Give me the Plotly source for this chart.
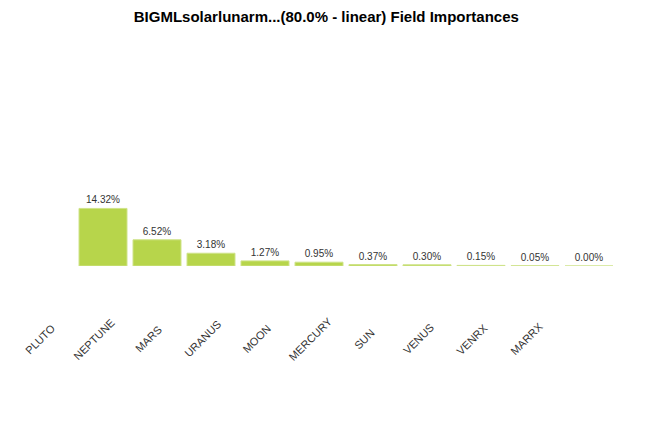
import plotly.graph_objects as go

fields = ["PLUTO", "NEPTUNE", "MARS", "URANUS", "MOON", "MERCURY", "SUN", "VENUS", "VENRX", "MARRX"]
importances = [14.32, 6.52, 3.18, 1.27, 0.95, 0.37, 0.30, 0.15, 0.05, 0.00]
title_text = "BIGMLsolarlunarm...(80.0% - linear) Field Importances"

FONT = "Liberation Sans, Arial, sans-serif"
BAR_COLOR = "#b7d54b"
LABEL_SHIFT = -1.157  # labels in the original sit about one slot left of their bars

idx = list(range(len(fields)))

fig = go.Figure()
fig.add_trace(go.Bar(
    x=idx,
    y=importances,
    marker=dict(color=BAR_COLOR, line=dict(color="#cfe38a", width=1)),
    text=[f"{v:.2f}%" for v in importances],
    textposition="outside",
    textfont=dict(family=FONT, size=10, color="#333333"),
    constraintext="none",
    cliponaxis=False,
    hoverinfo="skip",
))

annotations = []
for i, name in zip(idx, fields):
    annotations.append(dict(
        x=i + LABEL_SHIFT, y=-0.311, xref="x", yref="paper",
        text=name, showarrow=False, textangle=-45,
        xanchor="center", yanchor="middle",
        font=dict(family=FONT, size=11, color="#333333"),
    ))

fig.update_layout(
    width=651, height=422,
    margin=dict(l=14, r=43, t=22, b=164),
    paper_bgcolor="white", plot_bgcolor="white",
    bargap=0.111,
    showlegend=False,
    title=dict(
        text=f"<b>{title_text}</b>",
        x=0.489, xanchor="center",
        y=1 - 9 / 422, yanchor="middle", yref="container",
        font=dict(family=FONT, size=15, color="#000000"),
    ),
    xaxis=dict(range=[-1.5, 9.5], showticklabels=False, showgrid=False,
               zeroline=False, showline=False, ticks=""),
    yaxis=dict(range=[0, 236 / 4.02], showticklabels=False, showgrid=False,
               zeroline=False, showline=False, ticks=""),
    annotations=annotations,
)

fig.write_html("out.html")
